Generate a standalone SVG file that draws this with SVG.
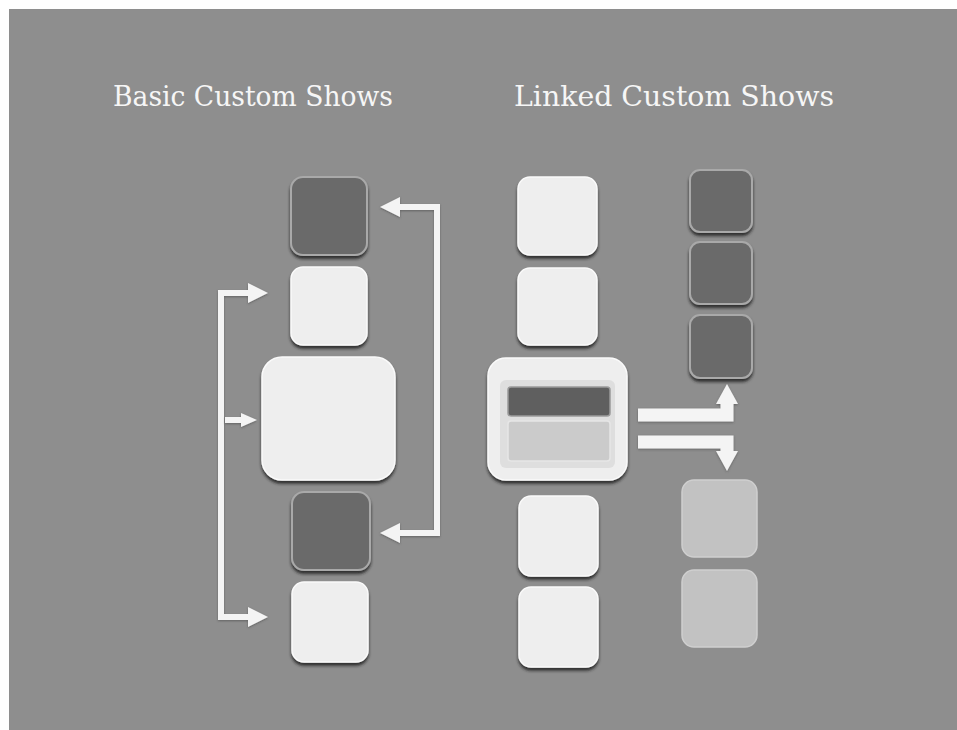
<svg xmlns="http://www.w3.org/2000/svg" width="957" height="730" viewBox="0 0 957 730">
<defs>
<style>
.title{font-family:"DejaVu Serif","Liberation Serif",serif;font-size:28px;fill:#f6f6f6;}
.light{fill:#eeeeee;stroke:#fafafa;stroke-width:1.5;filter:url(#sh);}
.dark{fill:#6b6b6b;stroke:#a9a9a9;stroke-width:2;filter:url(#sh);}
.dim{fill:#c2c2c2;stroke:#cfcfcf;stroke-width:1.5;}
.arr{fill:none;stroke:#f4f4f4;stroke-width:6;stroke-linejoin:miter;filter:url(#ash);}
.thick{fill:none;stroke:#f4f4f4;stroke-width:13;stroke-linejoin:miter;filter:url(#ash);}
</style>
<filter id="sh" x="-20%" y="-20%" width="140%" height="150%">
<feDropShadow dx="0" dy="3" stdDeviation="1.5" flood-color="#1a1a1a" flood-opacity="0.85"/>
</filter>
<filter id="ash" filterUnits="userSpaceOnUse" x="0" y="0" width="957" height="730">
<feDropShadow dx="0" dy="1" stdDeviation="1" flood-color="#444" flood-opacity="0.6"/>
</filter>
<marker id="head" viewBox="0 0 20 20" refX="2" refY="10" markerWidth="20" markerHeight="20" markerUnits="userSpaceOnUse" orient="auto-start-reverse">
<path d="M0,0 L20,10 L0,20 Z" fill="#f4f4f4"/>
</marker>
<marker id="headS" viewBox="0 0 16 14" refX="2" refY="7" markerWidth="16" markerHeight="14" markerUnits="userSpaceOnUse" orient="auto">
<path d="M0,0 L16,7 L0,14 Z" fill="#f4f4f4"/>
</marker>
<marker id="headT" viewBox="0 0 20 22" refX="2" refY="11" markerWidth="20" markerHeight="22" markerUnits="userSpaceOnUse" orient="auto">
<path d="M0,0 L20,11 L0,22 Z" fill="#f4f4f4"/>
</marker>
</defs>
<rect x="0" y="0" width="957" height="730" fill="#ffffff"/>
<rect x="9" y="9" width="948" height="721" fill="#8e8e8e"/>

<text class="title" x="113" y="106" textLength="280" lengthAdjust="spacingAndGlyphs">Basic Custom Shows</text>
<text class="title" x="514" y="106" textLength="320" lengthAdjust="spacingAndGlyphs">Linked Custom Shows</text>

<g id="connectors">
<path class="arr" d="M250,293 H221 V617 H250" marker-start="url(#head)" marker-end="url(#head)"/>
<path class="arr" d="M225,420 H243" marker-end="url(#headS)"/>
<path class="arr" d="M398,207 H437 V533 H398" marker-start="url(#head)" marker-end="url(#head)"/>
<path class="thick" d="M638,415 H727 V402" marker-end="url(#headT)"/>
<path class="thick" d="M638,442 H727 V453" marker-end="url(#headT)"/>
</g>

<g id="basic-1"><rect class="dark" x="291" y="177" width="76" height="78" rx="12"/></g>
<g id="basic-2"><rect class="light" x="291" y="267" width="76" height="78" rx="12"/></g>
<g id="basic-main"><rect class="light" x="262" y="357" width="133" height="123" rx="20"/></g>
<g id="basic-4"><rect class="dark" x="292" y="492" width="78" height="78" rx="12"/></g>
<g id="basic-5"><rect class="light" x="292" y="582" width="76" height="80" rx="12"/></g>

<g id="linked-1"><rect class="light" x="518" y="177" width="79" height="78" rx="12"/></g>
<g id="linked-2"><rect class="light" x="518" y="268" width="79" height="77" rx="12"/></g>
<g id="linked-main">
<rect class="light" x="488" y="358" width="139" height="122" rx="18"/>
<rect x="500" y="380" width="115" height="88" rx="6" fill="#dedede"/>
<rect x="508" y="387" width="102" height="29" rx="3" fill="#5f5f5f" stroke="#9a9a9a" stroke-width="1.5"/>
<rect x="508" y="421" width="102" height="40" rx="3" fill="#cbcbcb" stroke="#e6e6e6" stroke-width="1.5"/>
</g>
<g id="linked-4"><rect class="light" x="519" y="496" width="79" height="80" rx="12"/></g>
<g id="linked-5"><rect class="light" x="519" y="587" width="79" height="80" rx="12"/></g>

<g id="sub-a-1"><rect class="dark" x="690" y="170" width="62" height="62" rx="10"/></g>
<g id="sub-a-2"><rect class="dark" x="690" y="242" width="62" height="62" rx="10"/></g>
<g id="sub-a-3"><rect class="dark" x="690" y="315" width="62" height="63" rx="10"/></g>

<g id="sub-b-1"><rect class="dim" x="682" y="480" width="75" height="77" rx="12"/></g>
<g id="sub-b-2"><rect class="dim" x="682" y="570" width="75" height="77" rx="12"/></g>
</svg>
